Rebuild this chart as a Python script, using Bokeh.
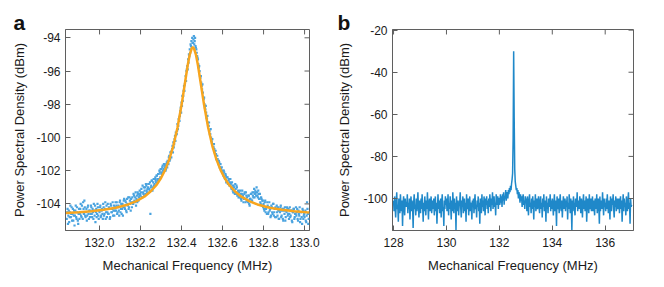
from bokeh.plotting import figure
from bokeh.layouts import row
from bokeh.models import FixedTicker, Range1d, PrintfTickFormatter
from bokeh.embed import file_html
from bokeh.resources import INLINE

# ---------------- Panel a data ----------------
# measured PSD points, two sweeps, sampled on a grid starting at 131.84 MHz with 0.004 MHz step
a_x_start = 131.84
a_x_step = 0.004
sweep1 = [
    -104.9, -104.3, -104.7, -105.1, -104.5, -104.8, -104.2, -104.6, -105.0, -104.4,
    -104.7, -104.1, -104.9, -104.5, -105.2, -104.3, -104.6, -104.0, -104.8, -104.5,
    -103.9, -104.6, -104.2, -104.8, -104.3, -104.7, -104.1, -104.9, -104.4, -104.6,
    -104.2, -104.8, -104.5, -104.0, -104.7, -105.1, -104.3, -104.6, -104.2, -104.9,
    -104.5, -104.1, -104.7, -104.3, -104.9, -104.2, -104.6, -103.9, -104.5, -104.8,
    -104.0, -104.6, -104.3, -104.8, -104.1, -104.5, -103.9, -104.4, -104.7, -104.2,
    -104.4, -103.9, -104.5, -104.1, -104.7, -103.8, -104.3, -104.6, -104.0, -104.2,
    -103.7, -104.3, -103.9, -104.5, -104.0, -103.6, -104.2, -103.8, -104.4, -103.9,
    -103.6, -104.0, -103.5, -103.9, -103.3, -103.7, -103.9, -103.4, -103.6, -103.2,
    -103.5, -103.1, -103.6, -103.3, -103.0, -103.2, -103.4, -102.9, -103.3, -103.0,
    -102.8, -103.2, -104.6, -102.9, -102.6, -103.0, -102.5, -102.8, -102.4, -102.7,
    -102.3, -102.6, -102.2, -102.0, -102.4, -101.9, -102.1, -101.7, -101.9, -101.6,
    -101.7, -101.9, -101.5, -101.4, -101.6, -101.1, -101.3, -100.9, -100.8, -100.5,
    -100.3, -100.4, -99.9, -99.7, -99.8, -99.2, -99.3, -98.8, -98.7, -98.2,
    -97.9, -97.5, -97.5, -96.9, -96.8, -96.3, -96.0, -95.7, -95.3, -95.0,
    -94.7, -94.4, -94.2, -94.0, -94.3, -93.9, -94.2, -94.5, -94.7, -95.1,
    -95.3, -95.8, -96.0, -96.4, -96.7, -97.1, -97.3, -97.7, -98.0, -98.3,
    -98.5, -98.9, -99.1, -99.3, -99.6, -99.8, -100.0, -100.3, -100.4, -100.6,
    -100.7, -101.0, -101.0, -101.3, -101.3, -101.6, -101.5, -101.8, -101.9, -101.8,
    -102.0, -102.3, -102.1, -102.5, -102.3, -102.6, -102.4, -102.8, -102.5, -102.7,
    -102.8, -103.1, -102.9, -103.3, -103.0, -103.4, -103.1, -102.9, -103.5, -103.2,
    -103.3, -103.6, -103.4, -103.8, -103.2, -103.5, -103.7, -103.3, -103.9, -103.5,
    -103.6, -103.9, -103.5, -104.1, -103.7, -103.4, -103.8, -103.5, -103.3, -103.6,
    -103.2, -103.5, -103.3, -103.6, -103.4, -103.7, -103.9, -103.6, -104.1, -103.8,
    -104.0, -104.4, -103.8, -104.3, -104.6, -104.1, -104.5, -103.9, -104.3, -104.7,
    -104.2, -104.6, -104.0, -104.5, -104.8, -104.3, -104.1, -104.7, -104.4, -104.9,
    -104.5, -104.1, -104.7, -104.3, -105.0, -104.4, -104.2, -104.8, -104.5, -104.3,
    -104.6, -104.9, -104.2, -104.7, -104.4, -105.1, -104.5, -104.3, -104.8, -104.6,
    -104.7, -104.3, -105.0, -104.6, -104.2, -104.9, -104.5, -105.2, -104.4, -104.7,
    -104.8, -104.4, -105.1, -103.9, -104.6, -104.9,
]
sweep2 = [
    -104.5, -105.2, -104.4, -104.8, -104.1, -104.6, -105.0, -104.3, -104.7, -105.3,
    -104.4, -104.8, -104.2, -105.0, -104.6, -104.9, -104.3, -104.7, -104.1, -104.9,
    -104.3, -103.8, -104.7, -104.5, -105.0, -104.2, -104.6, -104.4, -104.8, -104.1,
    -104.6, -104.3, -104.9, -104.4, -104.1, -104.5, -104.8, -104.0, -104.7, -104.4,
    -104.2, -104.8, -104.4, -104.6, -104.0, -104.7, -104.3, -104.9, -104.1, -104.5,
    -104.6, -104.2, -104.9, -104.0, -104.5, -104.3, -104.7, -104.1, -104.4, -103.9,
    -104.1, -104.6, -104.2, -104.4, -103.9, -104.5, -104.0, -104.3, -104.7, -103.8,
    -104.2, -103.8, -104.4, -103.7, -104.1, -104.3, -103.6, -104.0, -103.7, -104.2,
    -103.9, -103.4, -103.8, -103.6, -104.1, -103.5, -103.3, -103.8, -103.5, -103.4,
    -103.3, -103.6, -102.9, -103.4, -103.5, -103.0, -102.8, -103.2, -103.1, -102.8,
    -103.1, -102.7, -103.0, -102.6, -103.2, -102.7, -102.9, -102.5, -102.6, -102.3,
    -102.5, -102.2, -102.5, -102.1, -101.9, -102.2, -101.8, -102.0, -101.6, -101.8,
    -102.0, -101.6, -101.8, -101.5, -101.2, -101.4, -100.9, -101.2, -100.7, -100.9,
    -100.6, -100.1, -100.2, -99.8, -99.6, -99.5, -98.9, -99.0, -98.4, -98.5,
    -98.1, -97.8, -97.2, -97.2, -96.6, -96.6, -95.9, -95.9, -95.5, -95.1,
    -94.9, -94.5, -94.6, -94.3, -94.1, -94.4, -94.0, -94.6, -94.9, -95.2,
    -95.6, -95.7, -96.3, -96.3, -96.9, -96.8, -97.6, -97.6, -98.2, -98.1,
    -98.8, -98.7, -99.3, -99.1, -99.8, -99.5, -100.2, -100.1, -100.6, -100.4,
    -100.9, -100.8, -101.3, -101.1, -101.5, -101.4, -101.8, -101.6, -102.0, -102.1,
    -102.2, -102.0, -102.4, -102.2, -102.7, -102.4, -102.8, -102.6, -102.9, -102.5,
    -103.0, -102.7, -103.2, -102.9, -103.3, -102.8, -103.4, -103.0, -103.3, -103.6,
    -103.5, -103.2, -103.7, -103.4, -103.6, -103.9, -103.4, -103.7, -103.3, -103.8,
    -103.8, -103.5, -104.0, -103.7, -103.4, -103.8, -103.3, -103.6, -103.1, -103.4,
    -103.3, -103.0, -103.5, -103.2, -103.7, -103.4, -104.0, -103.7, -103.8, -104.2,
    -104.3, -103.9, -104.5, -104.2, -103.9, -104.6, -104.2, -104.4, -104.8, -104.1,
    -104.5, -104.0, -104.7, -104.3, -104.2, -104.8, -104.5, -104.2, -104.9, -104.4,
    -104.2, -104.8, -104.4, -104.9, -104.3, -104.6, -105.0, -104.4, -104.2, -104.7,
    -104.3, -104.6, -104.8, -104.4, -105.0, -104.5, -104.3, -104.9, -104.6, -104.2,
    -104.5, -104.9, -104.4, -104.7, -105.1, -104.5, -104.8, -104.3, -104.9, -104.6,
    -104.5, -105.0, -104.7, -104.3, -105.2, -104.6,
]
# Lorentzian fit curve
fit_x = [131.834, 131.90, 131.96, 132.02, 132.08, 132.14, 132.18, 132.22, 132.25, 132.28,
         132.30, 132.32, 132.34, 132.36, 132.38, 132.40, 132.42, 132.43, 132.44, 132.45,
         132.455, 132.46, 132.47, 132.48, 132.49, 132.51, 132.53, 132.55, 132.57, 132.59,
         132.61, 132.63, 132.66, 132.69, 132.73, 132.77, 132.83, 132.89, 132.95, 133.01, 133.024]
fit_y = [-104.55, -104.50, -104.44, -104.35, -104.23, -104.03, -103.83, -103.55, -103.24, -102.82,
         -102.44, -101.95, -101.32, -100.50, -99.42, -98.05, -96.45, -95.65, -95.01, -94.62,
         -94.57, -94.62, -95.01, -95.65, -96.45, -98.05, -99.42, -100.50, -101.32, -101.95,
         -102.44, -102.82, -103.24, -103.55, -103.83, -104.03, -104.23, -104.35, -104.44, -104.50, -104.51]
a_xticks = [132.0, 132.2, 132.4, 132.6, 132.8, 133.0]
a_yticks = [-104, -102, -100, -98, -96, -94]

# ---------------- Panel b data ----------------
b_x_start = 128.0
b_x_step = 0.02
b_psd = [
    -101, -106, -99, -104, -109, -102, -97, -105, -103, -111, -100, -104, -107, -98, -103, -106, -101, -113, -102, -99, -105, -108, -100, -104, -102,
    -104, -98, -107, -102, -105, -100, -110, -103, -99, -106, -101, -104, -114, -102, -98, -105, -103, -108, -100, -106, -102, -97, -104, -109, -101,
    -103, -107, -100, -105, -98, -104, -111, -102, -106, -99, -103, -108, -101, -105, -97, -104, -110, -102, -100, -106, -103, -99, -107, -104, -101,
    -105, -100, -108, -103, -99, -106, -102, -112, -104, -98, -105, -101, -107, -103, -100, -109, -102, -98, -106, -104, -113, -101, -105, -99, -103,
    -100, -106, -103, -98, -108, -102, -105, -99, -104, -110, -101, -106, -97, -103, -107, -100, -105, -102, -115, -99, -104, -106, -101, -108, -103,
    -102, -97, -105, -109, -101, -104, -99, -107, -103, -100, -106, -102, -111, -98, -104, -105, -100, -108, -103, -99, -106, -102, -104, -110, -101,
    -104, -100, -107, -102, -98, -105, -103, -109, -101, -104, -99, -106, -102, -112, -100, -103, -107, -98, -104, -101, -106, -99, -103, -108, -100,
    -103, -99, -105, -101, -107, -100, -104, -98, -102, -106, -100, -103, -97, -105, -101, -99, -104, -102, -108, -98, -101, -103, -99, -105, -100,
    -100, -103, -98, -102, -99, -104, -98, -101, -97, -103, -99, -100, -96, -101, -98, -97, -100, -96, -98, -95, -97, -94, -96, -93, -91,
    -88, -72, -30, -62, -86, -92, -94, -96, -95, -98, -96, -100, -97, -99, -102, -98, -101, -99, -104, -100, -98, -103, -101, -105, -99,
    -102, -100, -106, -99, -103, -108, -101, -98, -104, -102, -107, -100, -105, -99, -103, -110, -101, -104, -98, -106, -102, -100, -105, -103, -99,
    -104, -107, -101, -99, -105, -102, -109, -100, -104, -98, -106, -103, -101, -111, -99, -105, -102, -107, -100, -103, -104, -98, -106, -101, -105,
    -100, -103, -108, -102, -98, -106, -101, -104, -113, -99, -103, -105, -100, -107, -102, -98, -104, -106, -101, -109, -103, -99, -105, -102, -100,
    -106, -101, -104, -99, -110, -102, -105, -98, -103, -107, -100, -104, -115, -101, -106, -99, -103, -105, -108, -100, -102, -104, -97, -106, -103,
    -101, -105, -99, -104, -107, -100, -103, -109, -102, -98, -105, -101, -106, -103, -99, -111, -104, -100, -102, -107, -98, -105, -103, -100, -106,
    -103, -99, -106, -101, -104, -108, -100, -102, -105, -98, -107, -103, -100, -104, -112, -99, -106, -102, -101, -105, -97, -103, -108, -100, -104,
    -102, -106, -100, -105, -98, -103, -107, -101, -104, -110, -99, -102, -106, -100, -103, -98, -105, -109, -101, -104, -99, -106, -102, -100, -105,
    -104, -100, -107, -102, -99, -105, -101, -111, -103, -98, -106, -100, -104, -102, -108, -99, -103, -106, -101, -97, -105, -102, -112, -100, -104,
    -103,
]
b_xticks = [128, 130, 132, 134, 136]
b_yticks = [-100, -80, -60, -40, -20]

FONT = "Liberation Sans"
AX = "#5f5f5f"
TXT = "#1a1a1a"
TICK_PX = 5


def style(p, xt, yt, xfmt, yfmt, fw, fh, letter, letter_offset):
    for ax in p.xaxis + p.yaxis:
        ax.axis_line_color = AX
        ax.major_tick_line_color = AX
        ax.major_tick_in = TICK_PX
        ax.major_tick_out = 0
        ax.minor_tick_line_color = None
        ax.major_label_text_font = FONT
        ax.major_label_text_font_size = "12px"
        ax.major_label_text_color = TXT
        ax.axis_label_text_font = FONT
        ax.axis_label_text_font_size = "13px"
        ax.axis_label_text_font_style = "normal"
        ax.axis_label_text_color = TXT
    p.xaxis.ticker = FixedTicker(ticks=xt)
    p.yaxis.ticker = FixedTicker(ticks=yt)
    p.xaxis.formatter = PrintfTickFormatter(format=xfmt)
    p.yaxis.formatter = PrintfTickFormatter(format=yfmt)
    p.xaxis.major_label_standoff = 7
    p.yaxis.major_label_standoff = 5
    p.grid.visible = False
    p.outline_line_color = AX
    p.background_fill_color = "white"
    p.border_fill_color = "white"
    # mirrored inward ticks on the top and right edges of the frame
    xr, yr = p.x_range, p.y_range
    dy = (yr.end - yr.start) / fh * TICK_PX
    dx = (xr.end - xr.start) / fw * TICK_PX
    p.segment(x0=xt, y0=[yr.end] * len(xt), x1=xt, y1=[yr.end - dy] * len(xt),
              line_color=AX, line_width=1)
    p.segment(x0=[xr.end] * len(yt), y0=yt, x1=[xr.end - dx] * len(yt), y1=yt,
              line_color=AX, line_width=1)
    # panel letter as the title
    p.title.text = letter
    p.title.align = "left"
    p.title.offset = letter_offset
    p.title.text_font = FONT
    p.title.text_font_size = "21px"
    p.title.text_font_style = "bold"
    p.title.text_color = "#111111"
    try:
        p.title.standoff = -9
    except Exception:
        p.title.standoff = 0


# ---------------- Panel a ----------------
A_W, A_H = 330, 284
A_L, A_R, A_T, A_B = 65, 21, 26, 54
pa = figure(width=A_W, height=A_H, output_backend="svg", toolbar_location=None,
            x_range=Range1d(131.834, 133.024), y_range=Range1d(-105.6, -93.5),
            min_border_left=A_L, min_border_right=A_R, min_border_top=A_T, min_border_bottom=A_B,
            x_axis_label="Mechanical Frequency (MHz)", y_axis_label="Power Spectral Density (dBm)")
x1 = [a_x_start + a_x_step * i for i in range(len(sweep1))]
x2 = [a_x_start + a_x_step * i + a_x_step / 2 for i in range(len(sweep2))]
pa.scatter(x1, sweep1, marker="square", size=2.2, color="#4aa3df", line_color=None)
pa.scatter(x2, sweep2, marker="square", size=2.2, color="#4aa3df", line_color=None)
pa.line(fit_x, fit_y, line_color="#f7a51e", line_width=2.5)
style(pa, a_xticks, a_yticks, "%.1f", "%d", A_W - A_L - A_R, A_H - A_T - A_B, "a", -52)
pa.xaxis[0].axis_label_standoff = 8
pa.yaxis[0].axis_label_standoff = 6

# ---------------- Panel b ----------------
B_W, B_H = 330, 284
B_L, B_R, B_T, B_B = 62, 27, 29, 53
pb = figure(width=B_W, height=B_H, output_backend="svg", toolbar_location=None,
            x_range=Range1d(127.96, 137.07), y_range=Range1d(-115.2, -19.7),
            min_border_left=B_L, min_border_right=B_R, min_border_top=B_T, min_border_bottom=B_B,
            x_axis_label="Mechanical Frequency (MHz)", y_axis_label="Power Spectral Density (dBm)")
xb = [b_x_start + b_x_step * i for i in range(len(b_psd))]
pb.line(xb, b_psd, line_color="#1f88c9", line_width=1.5)
style(pb, b_xticks, b_yticks, "%d", "%d", B_W - B_L - B_R, B_H - B_T - B_B, "b", -55)
pb.xaxis[0].axis_label_standoff = 8
pb.yaxis[0].axis_label_standoff = 8

layout = row(pa, pb)
open("out.html", "w").write(file_html(layout, INLINE))
